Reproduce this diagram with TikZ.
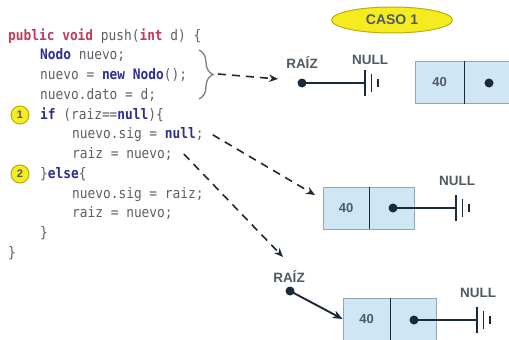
\documentclass[tikz,border=0pt]{standalone}
\usepackage{fontspec}
\usetikzlibrary{arrows.meta,decorations.pathreplacing,shapes.geometric}
\newfontfamily\codefont[FakeStretch=0.885]{DejaVu Sans Mono}
\newfontfamily\labelfont{Liberation Sans}
\definecolor{codegray}{HTML}{5C6066}
\definecolor{kwred}{HTML}{C23A5C}
\definecolor{kwblue}{HTML}{2B2E94}
\definecolor{ink}{HTML}{1B2A3A}
\definecolor{labelgray}{HTML}{4F5A63}
\definecolor{cellfill}{HTML}{CFE6F5}
\definecolor{cellline}{HTML}{93A6B3}
\definecolor{badgefill}{HTML}{F4EC1E}
\definecolor{badgeline}{HTML}{B9AC12}
\definecolor{bracegray}{HTML}{7A7E82}
\newcommand\kwr[1]{\textcolor{kwred}{\bfseries #1}}
\newcommand\kwb[1]{\textcolor{kwblue}{\bfseries #1}}
\begin{document}
\begin{tikzpicture}[x=1pt,y=-1pt,
  code/.style={anchor=base west, inner sep=0pt, font=\codefont\fontsize{14.5}{17}\selectfont, text=codegray},
  lbl/.style={font=\labelfont\bfseries\fontsize{13.5}{15}\selectfont, text=labelgray, inner sep=0pt},
  cell/.style={draw=cellline, fill=cellfill, line width=0.8pt, minimum height=42pt, inner sep=0pt,
    font=\labelfont\bfseries\fontsize{13}{15}\selectfont, text=labelgray},
  divider/.style={draw=ink, line width=1.3pt},
  dotnode/.style={circle, fill=ink, inner sep=0pt, minimum size=9pt},
  link/.style={draw=ink, line width=1.9pt},
  gline/.style={draw=ink, line width=1.7pt},
  flow/.style={draw=ink, line width=1.6pt, dash pattern=on 8pt off 6pt, -{Stealth[length=9pt,width=7.5pt]}},
  badge/.style={circle, draw=badgeline, fill=badgefill, line width=1pt, minimum size=18pt, inner sep=0pt,
    font=\labelfont\bfseries\fontsize{11}{13}\selectfont, text=labelgray},
  ground/.pic={\draw[gline] (0,-13) -- (0,13); \draw[gline] (6.5,-9) -- (6.5,9); \draw[gline] (13,-4) -- (13,4);}
]
\fill[white] (0,0) rectangle (509,340);
\useasboundingbox (0,0) rectangle (509,340);

% source code of push()
\node[code] (line1)  at (8,40)     {\kwr{public} \kwr{void} push(\kwr{int} d) \{};
\node[code] (line2)  at (40,59.75) {\kwb{Nodo} nuevo;};
\node[code] (line3)  at (40,79.5)  {nuevo = \kwb{new} \kwb{Nodo}();};
\node[code] (line4)  at (40,99.25) {nuevo.dato = d;};
\node[code] (line5)  at (40,119)   {\kwb{if} (raiz==\kwb{null})\{};
\node[code] (line6)  at (72,138.75) {nuevo.sig = \kwb{null};};
\node[code] (line7)  at (72,158.5) {raiz = nuevo;};
\node[code] (line8)  at (40,178.25) {\}\kwb{else}\{};
\node[code] (line9)  at (72,198)   {nuevo.sig = raiz;};
\node[code] (line10) at (72,217.75) {raiz = nuevo;};
\node[code] (line11) at (40,237.5) {\}};
\node[code] (line12) at (8,257.25) {\}};

% numbered cases
\node[badge] (b1) at (20,115) {1};
\node[badge] (b2) at (20,174) {2};

% title
\node[ellipse, draw=badgeline, fill=badgefill, line width=1pt, minimum width=121pt, minimum height=26pt,
  inner sep=0pt, font=\labelfont\bfseries\fontsize{14}{16}\selectfont, text=labelgray] (caso) at (392,20) {CASO 1};

% brace around the declaration lines
\draw[bracegray, line width=1.3pt, decorate, decoration={brace, amplitude=14pt, aspect=0.5}]
  (199,50) -- (199,99);
\coordinate (bracetip) at (218,74);

% state after declaration: raiz -> NULL, separate node
\node[lbl] (raiz1) at (302,63) {RAÍZ};
\node[lbl] (null1) at (370,60) {NULL};
\node[dotnode] (rdot1) at (302,83) {};
\coordinate (g1) at (365,83);
\draw[link] (rdot1.center) -- (g1);
\pic at (g1) {ground};
\coordinate (t1) at (278,79);

\node[cell, minimum width=49pt] (v1) at (439.5,82.5) {40};
\node[cell, minimum width=45pt] (p1) at (486.5,82.5) {};
\draw[divider] (v1.north east) -- (v1.south east);
\node[dotnode] (d1) at (489,83) {};

% case 1: new node with sig = null
\node[cell, minimum width=46pt] (v2) at (346,208) {40};
\node[cell, minimum width=45pt] (p2) at (391.5,208) {};
\draw[divider] (v2.north east) -- (v2.south east);
\node[dotnode] (d2) at (393,208) {};
\coordinate (g2) at (456,208);
\draw[link] (d2.center) -- (g2);
\pic at (g2) {ground};
\node[lbl] (null2) at (457,181) {NULL};
\coordinate (t2) at (315,195);

% case 1: raiz points to the new node
\node[lbl] (raiz3) at (289,277) {RAÍZ};
\node[dotnode] (rdot3) at (290,291) {};
\node[cell, minimum width=47pt] (v3) at (366.5,319) {40};
\node[cell, minimum width=46pt] (p3) at (413,319) {};
\draw[divider] (v3.north east) -- (v3.south east);
\node[dotnode] (d3) at (414,320) {};
\coordinate (g3) at (477,320);
\draw[link] (d3.center) -- (g3);
\pic at (g3) {ground};
\node[lbl] (null3) at (478,293) {NULL};
\draw[link, -{Stealth[length=10pt,width=8pt]}] (rdot3.center) -- (v3.west);
\coordinate (t3) at (283,257);

% flow from code to the resulting structures
\coordinate (s2) at ([xshift=9pt]line6.east);
\coordinate (s3) at ([xshift=11pt]line7.east);
\draw[flow] (bracetip) -- (t1);
\draw[flow] (s2) -- (t2);
\draw[flow] (s3) -- (t3);
\end{tikzpicture}
\end{document}
